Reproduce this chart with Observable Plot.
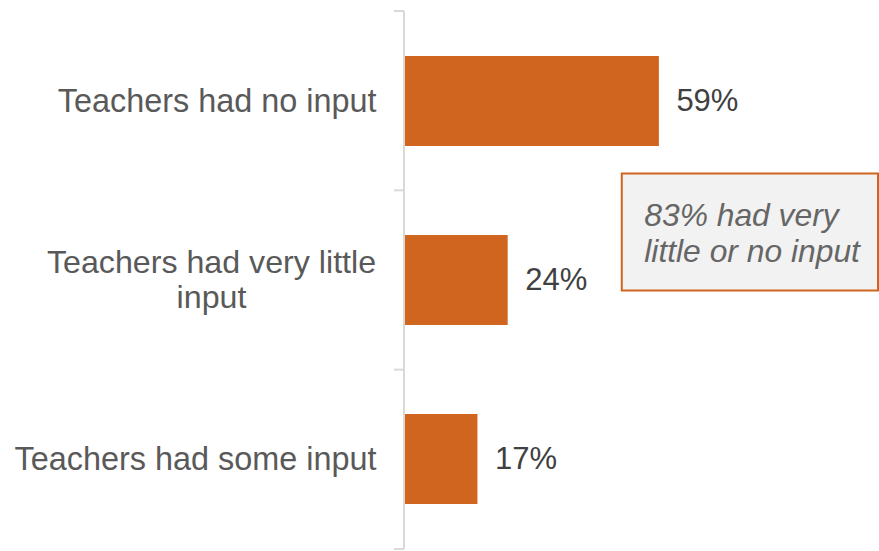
<!DOCTYPE html>
<html><head><meta charset="utf-8">
<script src="https://cdn.jsdelivr.net/npm/d3@7"></script>
<script src="https://cdn.jsdelivr.net/npm/@observablehq/plot@0.6"></script>
<style>body{margin:0;background:#fff;} #chart svg{display:block;}</style>
</head><body><div id="chart"></div>
<script>
const categories = ["Teachers had no input", "Teachers had very little input", "Teachers had some input"];
const labelLines = ["Teachers had no input", "Teachers had very little\ninput", "Teachers had some input"];
const values = [59, 24, 17];
const valueLabels = ["59%", "24%", "17%"];
const annotationText = "83% had very\nlittle or no input";
const annotationX = 55.5;
const annotationCategory = categories[1];

const data = categories.map((c, i) => ({category: c, label: labelLines[i], value: values[i], text: valueLabels[i], i}));

const W = 879, H = 551, mL = 404, mR = 43, mT = 11, mB = 2;
const orange = "#D0651F";
const axisGray = "#d9d9d9";

const axisDecor = (index, scales, vals, dims) => {
  const g = d3.create("svg:g");
  const x0 = scales.x(0);
  const step = (dims.height - dims.marginTop - dims.marginBottom) / categories.length;
  g.append("line").attr("x1", x0).attr("x2", x0)
    .attr("y1", dims.marginTop).attr("y2", dims.height - dims.marginBottom)
    .attr("stroke", axisGray).attr("stroke-width", 2);
  for (let i = 0; i <= categories.length; i++) {
    const y = dims.marginTop + i * step;
    g.append("line").attr("x1", x0 - 10).attr("x2", x0).attr("y1", y).attr("y2", y)
      .attr("stroke", axisGray).attr("stroke-width", 2);
  }
  return g.node();
};

const annotationBox = (index, scales, vals, dims) => {
  const step = (dims.height - dims.marginTop - dims.marginBottom) / categories.length;
  const ci = categories.indexOf(annotationCategory);
  const cy = dims.marginTop + (ci + 0.5) * step - 48;
  const x0 = scales.x(annotationX) - 22;
  const g = d3.create("svg:g");
  g.append("rect").attr("x", x0).attr("y", cy - 58.5)
    .attr("width", dims.width - 1 - x0).attr("height", 117)
    .attr("fill", "#f2f2f2").attr("stroke", orange).attr("stroke-width", 2);
  return g.node();
};

const plot = Plot.plot({
  width: W, height: H,
  marginLeft: mL, marginRight: mR, marginTop: mT, marginBottom: mB,
  style: {fontFamily: "'Liberation Sans', Arial, sans-serif", background: "#fff"},
  x: {domain: [0, 100], axis: null},
  y: {domain: categories, axis: null, paddingInner: 0.5, paddingOuter: 0.25},
  marks: [
    Plot.barX(data, {x: "value", y: "category", fill: orange}),
    axisDecor,
    Plot.text(data.filter(d => d.i !== 1), {x: 0, y: "category", text: "label", textAnchor: "end", dx: -28, fontSize: 32.4, fill: "#595959"}),
    Plot.text(data.filter(d => d.i === 1), {x: 0, y: "category", text: "label", textAnchor: "middle", dx: -193, dy: -1, lineHeight: 1.09, fontSize: 32.2, fill: "#595959"}),
    Plot.text(data, {x: "value", y: "category", text: "text", textAnchor: "start", dx: 17, fontSize: 31, fill: "#404040"}),
    annotationBox,
    Plot.text([annotationText], {x: annotationX, y: () => annotationCategory, text: d => d, textAnchor: "start", dy: -48, lineHeight: 1.14, fontSize: 31.8, fontStyle: "italic", fill: "#666666"})
  ]
});
document.getElementById("chart").appendChild(plot);
</script>
</body></html>
